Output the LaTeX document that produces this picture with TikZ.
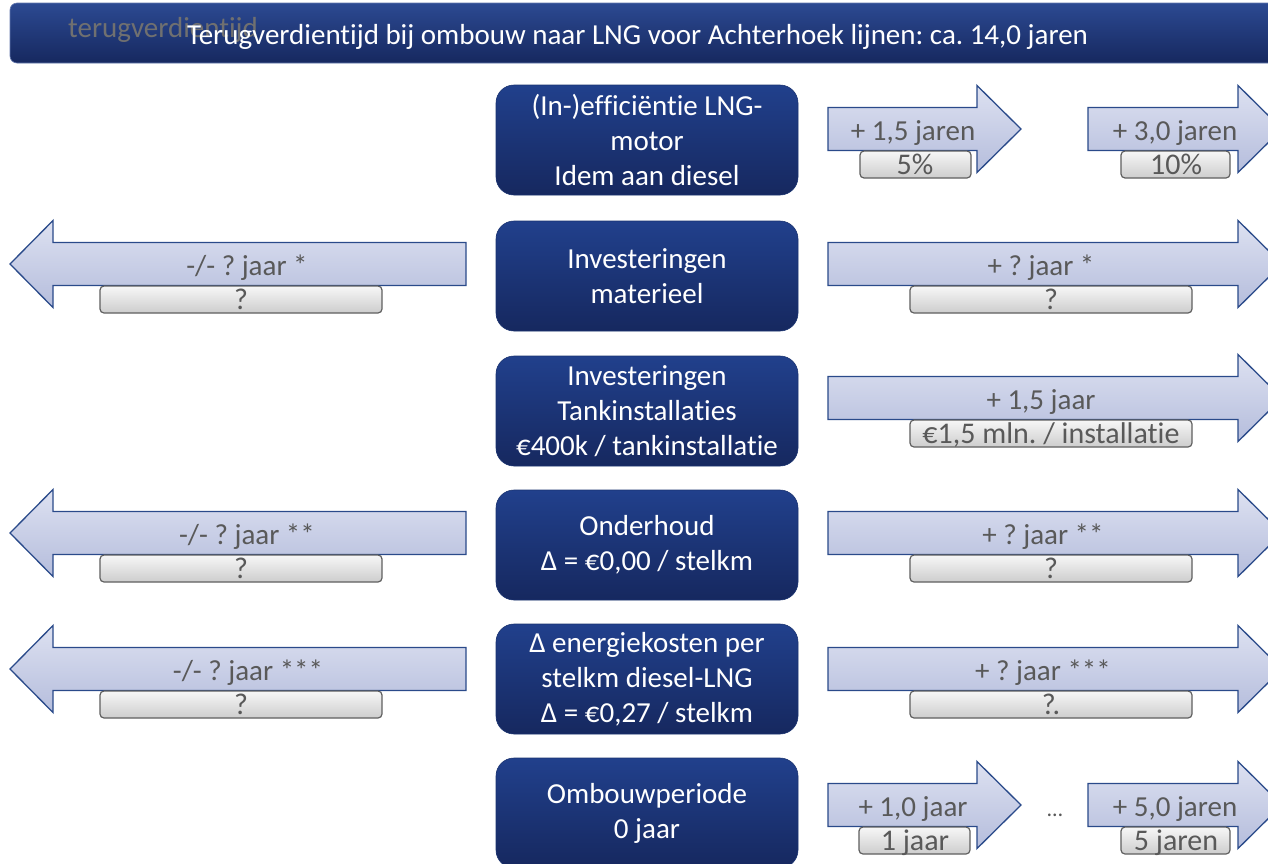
\documentclass[tikz,border=0pt]{standalone}
\usepackage{fontspec}
\setmainfont{Carlito}[Ligatures=NoCommon]
\frenchspacing
\definecolor{navyT}{HTML}{21408C}
\definecolor{navyB}{HTML}{16285F}
\definecolor{arrT}{HTML}{DDE1F1}
\definecolor{arrB}{HTML}{B5BDDC}
\definecolor{arrE}{HTML}{2A4A8A}
\definecolor{subT}{HTML}{F7F7F7}
\definecolor{subB}{HTML}{CDCDCD}
\definecolor{subE}{HTML}{5F5F5F}
\definecolor{txtG}{HTML}{595959}
\definecolor{ghost}{HTML}{707070}
\newcommand{\RArrow}[4]{\shade[arrowshape] (#1,#4-21.5) -- (#2,#4-21.5) -- (#2,#4-43.5) -- (#3,#4) -- (#2,#4+43.5) -- (#2,#4+21.5) -- (#1,#4+21.5) -- cycle;}
\newcommand{\LArrow}[4]{\shade[arrowshape] (#1,#4-21.5) -- (#2,#4-21.5) -- (#2,#4-43.5) -- (#3,#4) -- (#2,#4+43.5) -- (#2,#4+21.5) -- (#1,#4+21.5) -- cycle;}
\newcommand{\SubBox}[3]{\shade[subshape] (#1,#3+22) rectangle (#2,#3+49);}
\tikzset{
  arrowshape/.style={top color=arrT,bottom color=arrB,draw=arrE,line width=1.3pt,line join=miter},
  subshape/.style={top color=subT,bottom color=subB,draw=subE,line width=1.2pt,rounded corners=4pt},
  cbox/.style={rounded corners=18pt,top color=navyT,bottom color=navyB,draw=navyT!80!black,line width=0.6pt,
    minimum width=302pt,minimum height=110pt,text=white,align=center,inner sep=0pt,
    font=\fontsize{29}{35}\selectfont},
  atext/.style={anchor=base,text=txtG,inner sep=0pt,font=\fontsize{29}{35}\selectfont},
  stext/.style={anchor=base,text=txtG,inner sep=0pt,font=\fontsize{30}{34}\selectfont},
}
\begin{document}
\begin{tikzpicture}[x=1pt,y=-1pt]
\clip (0,0) rectangle (1268,863);
\fill[white] (0,0) rectangle (1268,863);
% title bar
\shade[top color=navyT!95!white,bottom color=navyB,draw=navyT!70!white,line width=0.6pt,rounded corners=7pt] (10,3) rectangle (1300,63);
\node[anchor=base west,inner sep=0pt,text=ghost,font=\fontsize{29}{35}\selectfont] (ghosttxt) at (68,37) {terugverdientijd};
\node[anchor=base west,inner sep=0pt,text=white,font=\fontsize{29}{35}\selectfont] (title) at (187,44) {Terugverdientijd bij ombouw naar LNG voor Achterhoek lijnen: ca. 14,0 jaren};
% central boxes
\node[cbox] (b1) at (647,140) {(In-)efficiëntie LNG-\\motor\\Idem aan diesel};
\node[cbox] (b2) at (647,276) {Investeringen\\materieel};
\node[cbox] (b3) at (647,411) {Investeringen\\Tankinstallaties\\€400k / tankinstallatie};
\node[cbox] (b4) at (647,545) {Onderhoud\\Δ = €0,00 / stelkm};
\node[cbox] (b5) at (647,679) {Δ energiekosten per\\stelkm diesel-LNG\\Δ = €0,27 / stelkm};
\node[cbox] (b6) at (647,813) {Ombouwperiode\\0 jaar};
% row 1
\RArrow{828}{977}{1021}{129}
\SubBox{860}{971}{129}
\node[atext] (r1a) at (913,140) {+ 1,5 jaren};
\node[stext] (r1as) at (915,174) {5\%};
\RArrow{1088}{1238}{1282}{129}
\SubBox{1121}{1230}{129}
\node[atext] (r1b) at (1175,140) {+ 3,0 jaren};
\node[stext] (r1bs) at (1176,174) {10\%};
% row 2
\LArrow{466}{53}{10}{264}
\SubBox{100}{382}{264}
\node[atext] (r2l) at (247,275) {-/- ? jaar *};
\node[stext] (r2ls) at (241,309) {?};
\RArrow{828}{1238}{1282}{264}
\SubBox{910}{1192}{264}
\node[atext] (r2r) at (1041,275) {+ ? jaar *};
\node[stext] (r2rs) at (1051,309) {?};
% row 3
\RArrow{828}{1238}{1282}{398}
\SubBox{910}{1192}{398}
\node[atext] (r3r) at (1041,409) {+ 1,5 jaar};
\node[stext] (r3rs) at (1051,443) {€1,5 mln. / installatie};
% row 4
\LArrow{466}{53}{10}{533}
\SubBox{100}{382}{533}
\node[atext] (r4l) at (247,544) {-/- ? jaar **};
\node[stext] (r4ls) at (241,578) {?};
\RArrow{828}{1238}{1282}{533}
\SubBox{910}{1192}{533}
\node[atext] (r4r) at (1043,544) {+ ? jaar **};
\node[stext] (r4rs) at (1051,578) {?};
% row 5
\LArrow{466}{53}{10}{669}
\SubBox{100}{382}{669}
\node[atext] (r5l) at (248,680) {-/- ? jaar ***};
\node[stext] (r5ls) at (241,714) {?};
\RArrow{828}{1238}{1282}{669}
\SubBox{910}{1192}{669}
\node[atext] (r5r) at (1043,680) {+ ? jaar ***};
\node[stext] (r5rs) at (1051,714) {?\kern-3pt.};
% row 6
\RArrow{828}{977}{1021}{805}
\SubBox{859}{970}{805}
\node[atext] (r6a) at (913,816) {+ 1,0 jaar};
\node[stext] (r6as) at (915,850) {1 jaar};
\node[atext,font=\fontsize{22}{26}\selectfont] (dots) at (1055,816) {…};
\RArrow{1088}{1238}{1282}{805}
\SubBox{1121}{1230}{805}
\node[atext] (r6b) at (1175,816) {+ 5,0 jaren};
\node[stext] (r6bs) at (1176,850) {5 jaren};
\end{tikzpicture}
\end{document}
